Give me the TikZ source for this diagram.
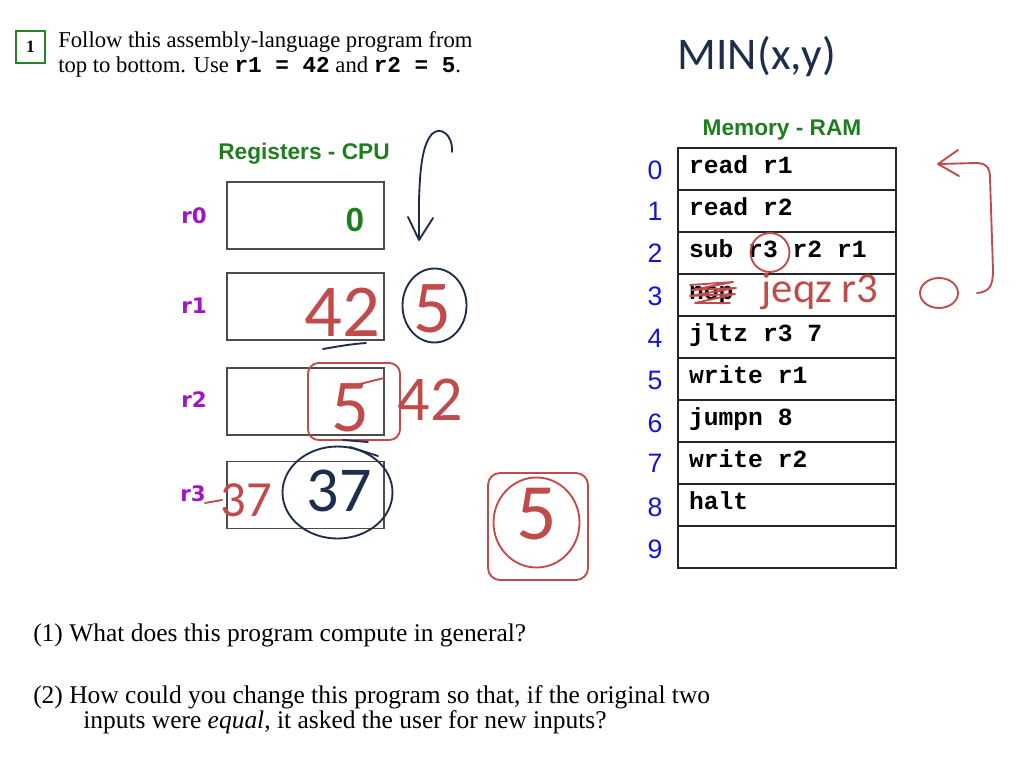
\documentclass[tikz,border=0pt]{standalone}
\usepackage{fontspec}
\setmainfont{Liberation Serif}
\setsansfont{Liberation Sans}
\setmonofont{Liberation Mono}
\newfontfamily\handfont{Carlito}
\newfontfamily\labfont{DejaVu Sans}
\definecolor{titlegreen}{RGB}{30,125,30}
\definecolor{boxgreen}{RGB}{40,130,40}
\definecolor{regpurple}{RGB}{160,20,200}
\definecolor{addrblue}{RGB}{20,20,210}
\definecolor{inkred}{RGB}{192,75,75}
\definecolor{inknavy}{RGB}{30,45,75}
\tikzset{
  plain/.style={inner sep=0pt, outer sep=0pt},
  handtxt/.style={inner sep=0pt, font=\handfont\fontsize{#1}{#1}\selectfont},
  ink/.style={line width=1.4pt, line cap=round, line join=round},
  redink/.style={ink, draw=inkred},
  navyink/.style={ink, draw=inknavy},
  title/.style={inner sep=0pt, text=titlegreen, font=\sffamily\bfseries\fontsize{17}{17}\selectfont},
  reglab/.style={inner sep=0pt, text=regpurple, font=\labfont\bfseries\fontsize{16}{16}\selectfont},
  regbox/.style={draw=black!70, line width=0.8pt, minimum width=117.75pt, minimum height=50.25pt, inner sep=0pt, outer sep=0pt},
  cell/.style={draw=black!85, line width=1.1pt, minimum width=163.5pt, minimum height=31.5pt,
    text width=147pt, inner xsep=8.25pt, inner ysep=0pt, align=flush left, outer sep=0pt,
    text height=10pt, text depth=3pt, font=\ttfamily\bfseries\fontsize{18.5}{18.5}\selectfont},
  addr/.style={inner sep=0pt, text=addrblue, font=\sffamily\fontsize{20}{20}\selectfont},
  qtext/.style={anchor=base west, inner sep=0pt, font=\fontsize{19.1}{22}\selectfont},
  itext/.style={anchor=base west, inner sep=0pt, font=\fontsize{17}{20}\selectfont},
}
\begin{document}
\begin{tikzpicture}[x=0.75pt,y=-0.75pt]
\useasboundingbox (0,0) rectangle (1024,768);

% header
\node[draw=boxgreen, line width=1.3pt, minimum width=21.75pt, minimum height=24pt, inner sep=0pt,
      font=\bfseries\fontsize{13}{13}\selectfont] (num) at (30.5,47) {1};
\node[itext] (intro1) at (58,47) {Follow this assembly-language program from};
\node[itext] (intro2) at (58,72) {top to bottom. Use \texttt{\textbf{r1 = 42}} and \texttt{\textbf{r2 = 5}}.};
\node[handtxt=34, text=inknavy] (minxy) at (757,57) {MIN(x,y)};

% registers
\node[title] (regtitle) at (304,154) {Registers - CPU};
\node[regbox] (r0box) at (305.5,215.5) {};
\node[regbox] (r1box) at (305.5,306.5) {};
\node[regbox] (r2box) at (305.5,401.5) {};
\node[regbox] (r3box) at (305.5,495) {};
\node[reglab] (r0lab) at (194,216) {r0};
\node[reglab] (r1lab) at (194,306) {r1};
\node[reglab] (r2lab) at (194,400) {r2};
\node[reglab] (r3lab) at (193,494) {r3};
\node[inner sep=0pt, text=titlegreen, font=\sffamily\bfseries\fontsize{25}{25}\selectfont] (zero) at (355,220) {0};

% memory
\node[title] (memtitle) at (782,130) {Memory - RAM};
\node[cell] (m0) at (787,169) {read r1};
\node[cell] (m1) at (787,211) {read r2};
\node[cell] (m2) at (787,253) {sub r3 r2 r1};
\node[cell] (m3) at (787,295) {nop};
\node[cell] (m4) at (787,337) {jltz r3 7};
\node[cell] (m5) at (787,379) {write r1};
\node[cell] (m6) at (787,421) {jumpn 8};
\node[cell] (m7) at (787,463) {write r2};
\node[cell] (m8) at (787,505) {halt};
\node[cell] (m9) at (787,547) {};
\foreach \i/\y in {0/170,1/211,2/253,3/296,4/338,5/380,6/423,7/463,8/507,9/549}
  \node[addr] (a\i) at (655,\y) {\i};

% questions
\node[qtext] (q1) at (33,641) {(1) What does this program compute in general?};
\node[qtext] (q2) at (33,703) {(2) How could you change this program so that, if the original two};
\node[qtext] (q3) at (83,728) {inputs were \textit{equal}, it asked the user for new inputs?};

% ---- handwritten annotations ----
% navy arrow
\draw[navyink] (452,152) .. controls (453,134) and (440,126) .. (432,134)
   .. controls (422,145) and (420,170) .. (419,200) -- (419,238);
\draw[navyink] (408,217) -- (419,240) -- (433,218);

% r1
\node[handtxt=56, text=inkred] (h42a) at (342,312) {42};
\draw[navyink] (323,349) .. controls (340,346) and (352,344) .. (366,343);
\node[handtxt=56, text=inkred] (h5a) at (432,309) {5};
\draw[navyink] (434.5,305.5) ellipse [x radius=24pt, y radius=27.75pt];

% r2
\node[handtxt=56, text=inkred] (h5b) at (350,408) {5};
\draw[redink] (352,386) -- (384,378);
\draw[redink, rounded corners=8pt] (308,363) rectangle (400,440);
\node[handtxt=48, text=inkred] (h42b) at (430,400) {42};
\draw[navyink] (343,440) -- (368,442);
\draw[navyink] (350,447) -- (378,456);

% r3
\node[handtxt=48, text=inknavy] (h37a) at (339,491) {37};
\draw[navyink] (337.5,492.5) ellipse [x radius=41.25pt, y radius=34.5pt];
\draw[redink] (205,503) -- (222,500);
\node[handtxt=38, text=inkred] (h37b) at (246,500) {37};

% lone 5
\node[handtxt=60, text=inkred] (h5c) at (537,514) {5};
\draw[redink] (536.5,522.5) ellipse [x radius=32.25pt, y radius=33.75pt];
\draw[redink, rounded corners=9pt] (488,473) rectangle (588,580);

% memory annotations
\draw[redink] (770,252.5) circle [radius=14.6pt];
\draw[redink] (690,285) -- (733,282) -- (692,290) -- (736,288) -- (690,296) -- (735,294) -- (695,303) -- (730,303);
\node[handtxt=32, text=inkred] (jeqz) at (820,291) {jeqz r3};
\draw[redink] (977,293) .. controls (990,292) and (993,285) .. (993,270) -- (990,178)
   .. controls (990,166) and (985,163) .. (975,163) -- (940,164);
\draw[redink] (958,150) -- (938,164) -- (959,176);
\draw[redink] (939,293) ellipse [x radius=14.25pt, y radius=11.25pt];
\end{tikzpicture}
\end{document}
